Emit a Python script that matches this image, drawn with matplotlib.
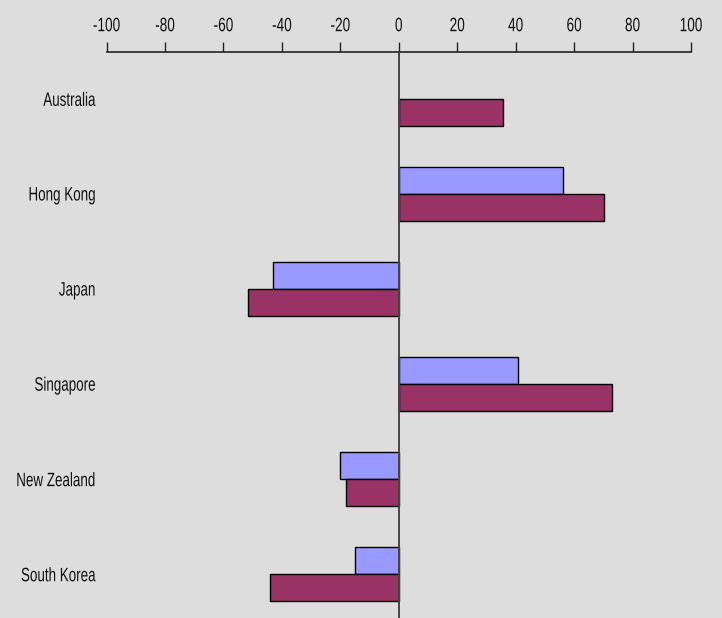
import numpy as np
import matplotlib
matplotlib.use("Agg")
import matplotlib.pyplot as plt
from matplotlib.patheffects import AbstractPathEffect
from matplotlib.transforms import Affine2D
from matplotlib.path import Path

plt.rcParams['font.family'] = ['Liberation Sans', 'DejaVu Sans']

countries = ["Australia", "Hong Kong", "Japan", "Singapore", "New Zealand", "South Korea"]
series_a = [np.nan, 56.3, -42.9, 40.8, -20.0, -15.1]
series_b = [35.6, 70.4, -51.7, 73.0, -18.1, -43.9]
ticks = list(range(-100, 101, 20))


class Narrowed(AbstractPathEffect):
    """Rescale text glyphs around an anchor point of their outline box."""

    def __init__(self, sx, sy, ax_frac=0.5, ay_frac=0.5):
        super().__init__()
        self.sx, self.sy = sx, sy
        self.ax_frac, self.ay_frac = ax_frac, ay_frac

    def draw_path(self, renderer, gc, tpath, affine, rgbFace=None):
        verts = tpath.vertices
        if tpath.codes is not None:
            verts = verts[tpath.codes != Path.CLOSEPOLY]
        pts = affine.transform(verts)
        x0, x1 = pts[:, 0].min(), pts[:, 0].max()
        y0, y1 = pts[:, 1].min(), pts[:, 1].max()
        xa = x0 + self.ax_frac * (x1 - x0)
        ya = y0 + self.ay_frac * (y1 - y0)
        t = affine + Affine2D().translate(-xa, -ya).scale(self.sx, self.sy).translate(xa, ya)
        renderer.draw_path(gc, tpath, t, rgbFace)


bg = "#DDDDDD"
fig = plt.figure(figsize=(7.22, 6.18), dpi=100, facecolor=bg)
ax = fig.add_axes([106.5 / 722, 0, (691 - 106.5) / 722, 1 - 52.3 / 618])
ax.set_facecolor(bg)

pos = np.arange(len(countries))
h = 0.283
ax.barh(pos - h / 2, series_a, height=h, color="#9999FF", edgecolor="black", linewidth=1.0, zorder=3)
ax.barh(pos + h / 2, series_b, height=h, color="#993366", edgecolor="black", linewidth=1.0, zorder=3)
ax.axvline(0, color="#444444", linewidth=1.4, zorder=4)

base = 11.0
scale_y = 14.0 / base
ax.set_xlim(-100, 100)
ax.set_ylim(5.46, -0.49)
ax.xaxis.tick_top()
ax.set_xticks(ticks)
ax.set_xticklabels([str(t) for t in ticks], fontsize=base, color="#111111")
ax.tick_params(axis="x", direction="out", length=7, width=1, pad=6, color="#222222")
ax.set_yticks(pos)
ax.set_yticklabels(countries, fontsize=base, color="#111111")
ax.tick_params(axis="y", length=0, pad=8)
for lbl in ax.get_xticklabels():
    lbl.set_path_effects([Narrowed(0.70 * scale_y, scale_y, 0.5, 0.0)])
for lbl in ax.get_yticklabels():
    lbl.set_path_effects([Narrowed(0.69 * scale_y, scale_y, 1.0, 0.5)])
for side in ["left", "right", "bottom"]:
    ax.spines[side].set_visible(False)
ax.spines["top"].set_color("#222222")
ax.spines["top"].set_linewidth(1.2)

fig.savefig("out.png", dpi=100, facecolor=bg)
